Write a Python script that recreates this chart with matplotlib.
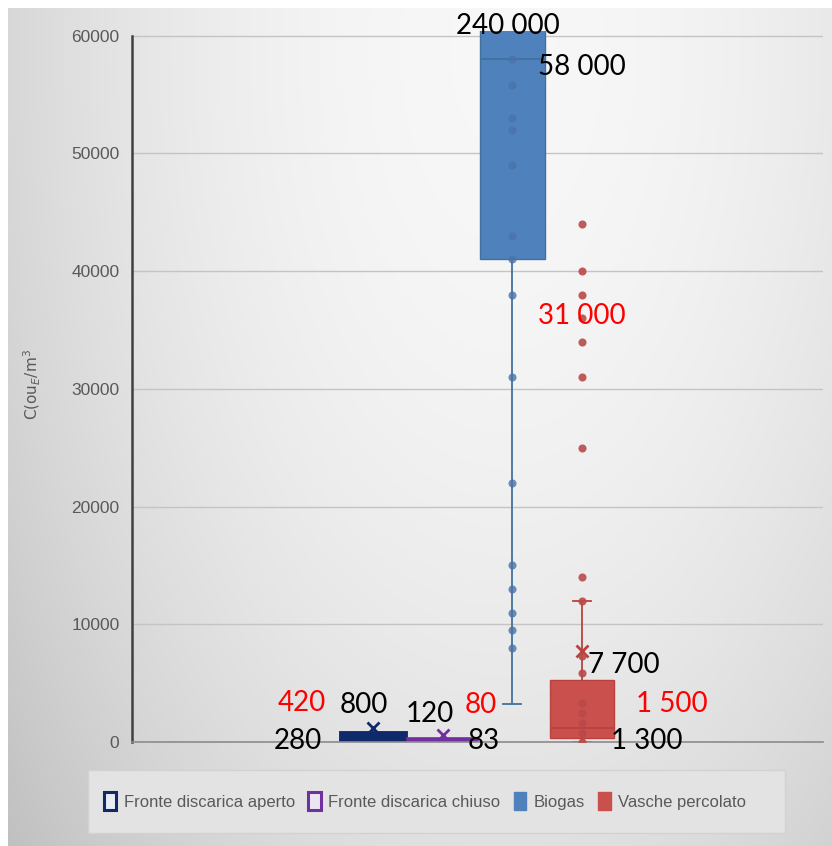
import numpy as np
import matplotlib
matplotlib.use("Agg")
import matplotlib.pyplot as plt
from matplotlib.patches import Patch, Rectangle

# series
series = ["Fronte discarica aperto", "Fronte discarica chiuso", "Biogas", "Vasche percolato"]
fills = ["#10296b", "#7030a0", "#4f81bd", "#c9504d"]
edges = ["#10296b", "#7030a0", "#41719c", "#b9423f"]

# box statistics
q1 = [280, 40, 41000, 300]
med = [420, 80, 58000, 1200]
q3 = [800, 120, 62000, 5300]
whislo = [280, 40, 3200, 0]
whishi = [800, 120, 240000, 12000]
means = [1200, 600, None, 7700]

biogas_pts = [58000, 55800, 53000, 52000, 49000, 43000, 41000, 38000, 31000,
              22000, 15000, 13000, 11000, 9500, 8000]
vasche_pts = [44000, 40000, 38000, 36000, 34000, 31000, 25000, 14000, 12000,
              7300, 5900, 3300, 2500, 1600, 800, 0]

# text labels written on the chart: (text, x, y, colour)
notes = [("240 000", 1.94, 60800, "black"), ("58 000", 3.0, 57350, "black"),
         ("31 000", 3.0, 36200, "red"), ("7 700", 3.6, 6540, "black"),
         ("1 500", 4.29, 3220, "red"), ("1 300", 3.93, 85, "black"),
         ("420", -1.02, 3310, "red"), ("800", -0.13, 3140, "black"),
         ("280", -1.08, 85, "black"), ("120", 0.82, 2380, "black"),
         ("80", 1.55, 3140, "red"), ("83", 1.59, 85, "black")]

W, H = 832, 846
fig = plt.figure(figsize=(W / 100, H / 100), dpi=100, facecolor="white")

# grey gradient background of the chart area
bg = fig.add_axes([8 / W, 0, 1 - 8 / W, 1 - 8 / H], zorder=-10)
gx, gy = np.meshgrid(np.linspace(0, 1, 300), np.linspace(0, 1, 300))
d2 = ((gx - 0.6) / 0.7) ** 2 + ((gy - 0.05) / 1.3) ** 2
v = 0.97 - 0.17 * d2
bg.imshow(np.dstack([v, v, v]).clip(0, 1), aspect="auto", extent=[0, 1, 1, 0])
bg.axis("off")

ax = fig.add_axes([132 / W, 1 - 742 / H, (823 - 132) / W, (742 - 31) / H])
ax.patch.set_alpha(0)

for i in range(4):
    st = dict(q1=q1[i], med=med[i], q3=q3[i], whislo=whislo[i], whishi=whishi[i])
    if means[i] is not None:
        st["mean"] = means[i]
    lw = [3.5, 5.5, 1.0, 1.0][i]
    ax.bxp([st], positions=[i], widths=0.92, patch_artist=True,
           showfliers=False, showmeans=means[i] is not None, showcaps=i >= 2,
           capwidths=0.26,
           boxprops=dict(facecolor=fills[i], edgecolor=edges[i], lw=lw),
           medianprops=dict(color=edges[i] if i >= 2 else fills[i], lw=1.3),
           whiskerprops=dict(color=edges[i], lw=1.3),
           capprops=dict(color=edges[i], lw=1.3),
           meanprops=dict(marker="x", markeredgecolor=edges[i], markersize=8,
                          markeredgewidth=2))

ax.scatter([2] * len(biogas_pts), biogas_pts, s=34, color="#4a72a8", zorder=4,
           alpha=0.8, lw=0)
ax.scatter([3] * len(vasche_pts), vasche_pts, s=34, color="#b94a48", zorder=4,
           alpha=0.9, lw=0)

ax.set_xlim(-3.45, 6.45)
ax.set_ylim(0, 60400)
ax.set_yticks(range(0, 60001, 10000))
ax.set_xticks([])
ax.grid(axis="y", color="#c4c4c4", lw=1)
ax.set_axisbelow(True)
for s in ["top", "right"]:
    ax.spines[s].set_visible(False)
ax.spines["left"].set_bounds(0, 60000)
ax.spines["left"].set_color("#404040")
ax.spines["left"].set_linewidth(1.8)
ax.spines["bottom"].set_color("#8c8c8c")
ax.spines["bottom"].set_linewidth(1.2)
ax.tick_params(axis="y", length=0, pad=9, labelcolor="#595959", labelsize=12.5)
for t in ax.get_yticklabels():
    t.set_family("Liberation Sans")

for txt, x, y, c in notes:
    ax.text(x, y, txt, color=c, fontsize=20, family="Lato", ha="center",
            va="center", zorder=6, clip_on=False)

fig.text(32 / W, 1 - 385 / H, r"C(ou$_E$/m$^3$", rotation=90, ha="center",
         va="center", color="#595959", fontsize=11)

# legend box
fig.patches.append(Rectangle((88 / W, 1 - 833 / H), 697 / W, 63 / H,
                             transform=fig.transFigure, facecolor="#e3e3e3",
                             edgecolor="#d2d2d2", lw=1, zorder=1))
handles = [Patch(facecolor="#e8ecf4", edgecolor=fills[0], lw=2.2),
           Patch(facecolor="#ece6f2", edgecolor=fills[1], lw=2.2),
           Patch(facecolor=fills[2], edgecolor=fills[2]),
           Patch(facecolor=fills[3], edgecolor=fills[3])]
leg = fig.legend(handles, series, loc="center", bbox_to_anchor=(425 / W, 1 - 801 / H),
                 ncol=4, frameon=False, handlelength=0.75, handleheight=1.3,
                 handletextpad=0.45, columnspacing=0.8,
                 prop={"family": "Liberation Sans", "size": 12})
for t in leg.get_texts():
    t.set_color("#595959")

fig.savefig("out.png", dpi=100)
